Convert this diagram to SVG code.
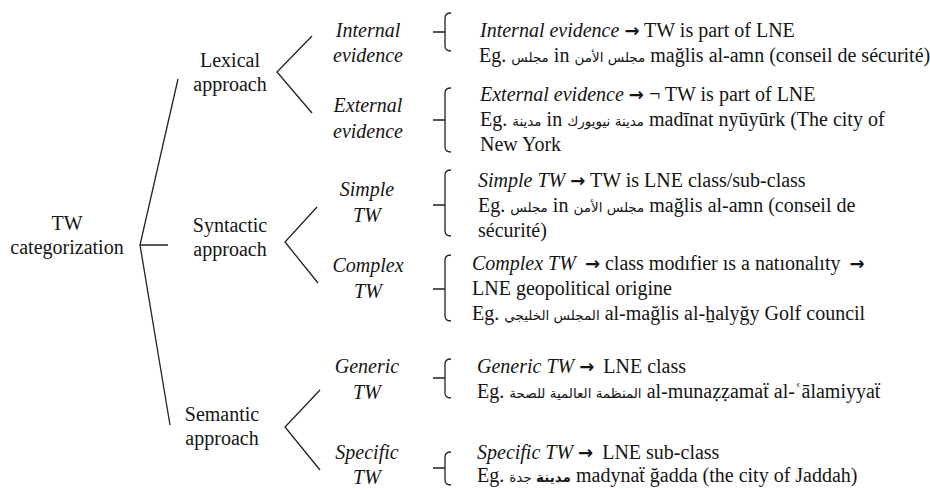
<svg xmlns="http://www.w3.org/2000/svg" width="930" height="489" viewBox="0 0 930 489">
<style>
text{font-family:'Liberation Serif',Tinos,'Times New Roman','DejaVu Serif',serif;font-size:20px;fill:#151515}
.i{font-style:italic}
.m{text-anchor:middle}
.ar{font-family:'DejaVu Sans',sans-serif;font-size:13.5px}
.b{font-weight:bold}
.arw{font-family:'DejaVu Sans',sans-serif;font-weight:bold;font-size:18px}
.ln{fill:none;stroke:#222;stroke-width:1.3}
</style>
<rect width="930" height="489" fill="#fff"/>

<g id="connectors">
<path class="ln" d="M178,79 L140,245 L170,425 M140,245 H168"/>
<path class="ln" d="M312,36 L277,72 L312,113"/>
<path class="ln" d="M317,207 L285,242 L318,283"/>
<path class="ln" d="M320,390 L285,427 L320,470"/>
<path class="ln" d="M451,13 Q445,13 445,18 V46 Q445,51 451,51 M433,32 H445"/>
<path class="ln" d="M451,88 Q445,88 445,93 V147 Q445,152 451,152 M433,120 H445"/>
<path class="ln" d="M451,170 Q445,170 445,175 V231 Q445,236 451,236 M433,205 H445"/>
<path class="ln" d="M451,255 Q445,255 445,260 V316 Q445,321 451,321 M433,289 H445"/>
<path class="ln" d="M451,359 Q445,359 445,364 V393 Q445,398 451,398 M433,378 H445"/>
<path class="ln" d="M451,452 Q445,452 445,457 V480 Q445,485 451,485 M433,468 H445"/>
</g>

<g id="root"><text class="m" x="67" y="230">TW</text><text class="m" x="67" y="254">categorization</text></g>

<g id="lexical"><text class="m" x="230" y="67">Lexical</text><text class="m" x="230" y="91">approach</text></g>
<g id="syntactic"><text class="m" x="230" y="232">Syntactic</text><text class="m" x="230" y="256">approach</text></g>
<g id="semantic"><text class="m" x="222" y="421">Semantic</text><text class="m" x="222" y="445">approach</text></g>

<g id="internal"><text class="i m" x="368" y="37">Internal</text><text class="i m" x="368" y="62">evidence</text></g>
<g id="external"><text class="i m" x="368" y="112">External</text><text class="i m" x="368" y="138">evidence</text></g>
<g id="simple"><text class="i m" x="367" y="196">Simple</text><text class="i m" x="367" y="222">TW</text></g>
<g id="complex"><text class="i m" x="368" y="272">Complex</text><text class="i m" x="368" y="298">TW</text></g>
<g id="generic"><text class="i m" x="367" y="373">Generic</text><text class="i m" x="367" y="399">TW</text></g>
<g id="specific"><text class="i m" x="367" y="459">Specific</text><text class="i m" x="367" y="484">TW</text></g>

<g id="internal-def">
<text x="480" y="37"><tspan class="i">Internal evidence</tspan> <tspan class="arw">→</tspan> TW is part of LNE</text>
<text x="479" y="62">Eg. <tspan class="ar">مجلس</tspan> in <tspan class="ar">مجلس الأمن</tspan> mağlis al-amn (conseil de sécurité)</text>
</g>
<g id="external-def">
<text x="480" y="101"><tspan class="i">External evidence</tspan> <tspan class="arw">→</tspan> ¬ TW is part of LNE</text>
<text x="480" y="126">Eg. <tspan class="ar">مدينة</tspan> in <tspan class="ar">مدينة نيويورك</tspan> madīnat nyūyūrk (The city of</text>
<text x="480" y="151">New York</text>
</g>
<g id="simple-def">
<text x="478" y="187"><tspan class="i">Simple TW</tspan> <tspan class="arw">→</tspan> TW is LNE class/sub-class</text>
<text x="478" y="212">Eg. <tspan class="ar">مجلس</tspan> in <tspan class="ar">مجلس الأمن</tspan> mağlis al-amn (conseil de</text>
<text x="478" y="237">sécurité)</text>
</g>
<g id="complex-def">
<text x="472" y="270"><tspan class="i">Complex TW</tspan> <tspan class="arw" dx="4">→</tspan> class modıfier ıs a natıonalıty <tspan class="arw" dx="4">→</tspan></text>
<text x="472" y="295">LNE geopolitical origine</text>
<text x="472" y="320">Eg. <tspan class="ar">المجلس الخليجي</tspan> al-mağlis al-ẖalyğy Golf council</text>
</g>
<g id="generic-def">
<text x="477" y="373"><tspan class="i">Generic TW</tspan> <tspan class="arw">→</tspan> <tspan dx="4">LNE class</tspan></text>
<text x="477" y="398">Eg. <tspan class="ar">المنظمة العالمية للصحة</tspan> al-munaẓẓamaẗ al-ʿālamiyyaẗ</text>
</g>
<g id="specific-def">
<text x="477" y="459"><tspan class="i">Specific TW</tspan> <tspan class="arw">→</tspan> <tspan dx="4">LNE sub-class</tspan></text>
<text x="477" y="482">Eg. <tspan class="ar b">مدينة</tspan><tspan class="ar"> جدة</tspan> madynaẗ ğadda (the city of Jaddah)</text>
</g>
</svg>
